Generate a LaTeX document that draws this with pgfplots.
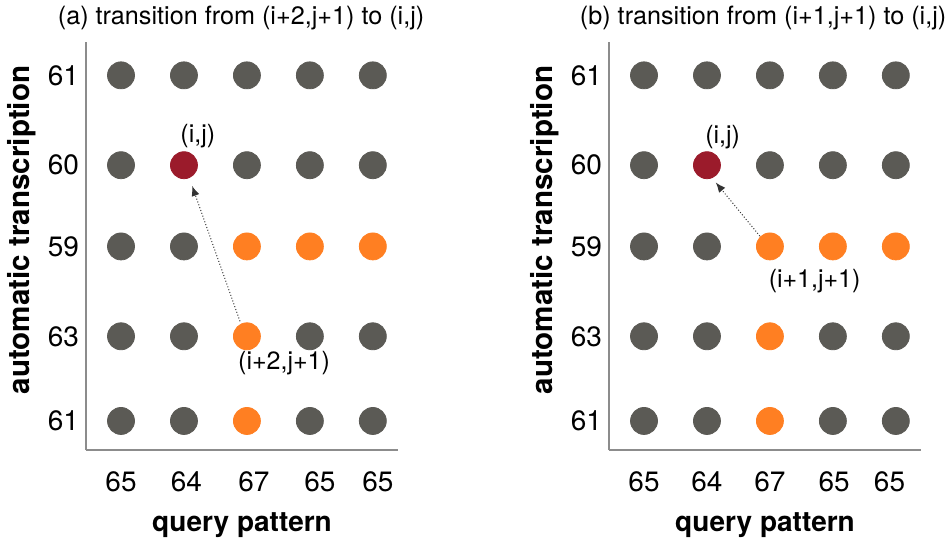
\documentclass[border=0pt]{standalone}
\usepackage{pgfplots}
\pgfplotsset{compat=1.18}
\usetikzlibrary{arrows.meta}
\usepackage{fontspec}
\setmainfont{TeX Gyre Heros}
\definecolor{dotgray}{HTML}{5B5A55}
\definecolor{dotred}{HTML}{9B1B2B}
\definecolor{dotorange}{HTML}{FF7F22}
\definecolor{axgray}{HTML}{8C8C8C}
\tikzset{ann/.style={font=\fontsize{12.5}{14}\selectfont}}
\pgfplotsset{
  panel/.style={
    scale only axis, width=156pt, height=204pt,
    axis lines=left, axis line style={-, axgray, line width=0.7pt},
    xmin=-0.556, xmax=4.40, ymin=-0.336, ymax=4.386,
    major tick length=0pt,
    /pgf/number format/assume math mode=true,
    tick label style={font=\fontsize{14}{16}\selectfont},
    xticklabel style={yshift=-7.5pt},
    ytick={0,0.98,2.02,2.96,4},
    yticklabels={61,63,59,60,61},
    xticklabels={65,64,67,65,65},
    xlabel={query pattern}, ylabel={automatic transcription},
    xlabel style={font=\fontsize{14}{16}\selectfont\bfseries, at={(axis description cs:0.5,-0.183)}, anchor=center},
    ylabel style={font=\fontsize{14.8}{16}\selectfont\bfseries, at={(axis description cs:-0.205,0.539)}, anchor=center},
    clip=false,
  },
  dots/.style={only marks, mark=*, mark size=6.75pt, mark options={draw=#1, fill=#1}},
}
\begin{document}
\begin{tikzpicture}
\useasboundingbox (0,0) rectangle (476pt,-272.5pt);
% panel (a)
\begin{axis}[panel, at={(43pt,-225pt)}, anchor=south west,
  xtick={0,1.04,2.11,3.16,4.08},
  title={(a) transition from (i+2,j+1) to (i,j)},
  every axis title/.style={at={(axis description cs:0.497,1.059)}, anchor=center, font=\fontsize{12.6}{14}\selectfont}]
\addplot[dots=dotgray] coordinates {(0,4) (1,4) (2,4) (3,4) (4,4)
  (0,2.96) (2,2.96) (3,2.96) (4,2.96) (0,2.02) (1,2.02)
  (0,0.98) (1,0.98) (3,0.98) (4,0.98) (0,0) (1,0) (3,0) (4,0)};
\addplot[dots=dotorange] coordinates {(2,2.02) (3,2.02) (4,2.02) (2,0.98) (2,0)};
\addplot[dots=dotred] coordinates {(1,2.96)};
\draw[densely dotted, black!80, line width=0.5pt, -{Latex[length=5pt,width=4pt]}] (axis cs:1.89,1.154) -- (axis cs:1.13,2.72);
\node[ann] at (axis cs:1.22,3.30) {(i,j)};
\node[ann] at (axis cs:2.59,0.67) {(i+2,j+1)};
\end{axis}
% panel (b)
\begin{axis}[panel, at={(304.5pt,-225pt)}, anchor=south west,
  xtick={0,1,2,3.02,3.90},
  title={(b) transition from (i+1,j+1) to (i,j)},
  every axis title/.style={at={(axis description cs:0.494,1.059)}, anchor=center, font=\fontsize{12.6}{14}\selectfont}]
\addplot[dots=dotgray] coordinates {(0,4) (1,4) (2,4) (3,4) (4,4)
  (0,2.96) (2,2.96) (3,2.96) (4,2.96) (0,2.02) (1,2.02)
  (0,0.98) (1,0.98) (3,0.98) (4,0.98) (0,0) (1,0) (3,0) (4,0)};
\addplot[dots=dotorange] coordinates {(2,2.02) (3,2.02) (4,2.02) (2,0.98) (2,0)};
\addplot[dots=dotred] coordinates {(1,2.96)};
\draw[densely dotted, black!80, line width=0.5pt, -{Latex[length=5pt,width=4pt]}] (axis cs:1.84,2.14) -- (axis cs:1.14,2.76);
\node[ann] at (axis cs:1.25,3.28) {(i,j)};
\node[ann] at (axis cs:2.71,1.62) {(i+1,j+1)};
\end{axis}
\end{tikzpicture}
\end{document}
